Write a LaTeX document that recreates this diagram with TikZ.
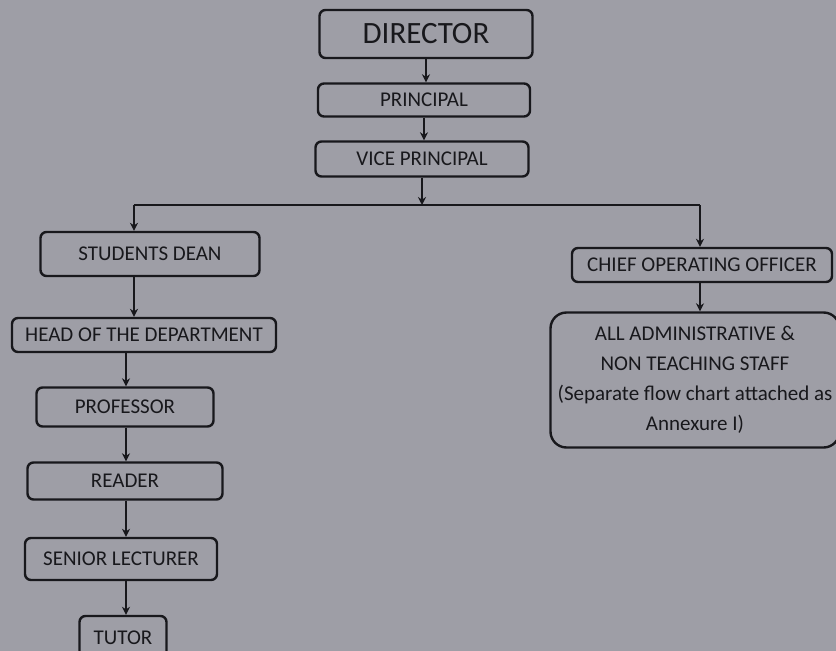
\documentclass[tikz,border=0pt]{standalone}
\usepackage{fontspec}
\setmainfont{Carlito}
\usetikzlibrary{arrows.meta}
\definecolor{paper}{HTML}{9E9EA6}
\definecolor{ink}{HTML}{18181C}
\tikzset{
  post/.style={draw=ink, line width=2.4pt, rounded corners=6pt, text=ink,
    inner sep=0pt, font=\fontsize{21}{24}\selectfont},
  link/.style={draw=ink, line width=2.2pt, -{Stealth[length=8pt,width=8pt]}}
}
\begin{document}
\begin{tikzpicture}[x=1pt,y=-1pt]
      \useasboundingbox (0,0) rectangle (836,651);
      \fill[paper] (0,0) rectangle (836,651);
      \path
        (426,34) node[post, minimum width=213, minimum height=48,
          font=\fontsize{31}{34}\selectfont] (dir){DIRECTOR}
        (424,100) node[post, minimum width=212, minimum height=33] (prin){PRINCIPAL}
        (422,159) node[post, minimum width=213, minimum height=35] (vp){VICE PRINCIPAL}
        (150,254) node[post, minimum width=219, minimum height=44] (sdean){STUDENTS DEAN}
        (144,335) node[post, minimum width=264, minimum height=34] (hod){HEAD OF THE DEPARTMENT}
        (125,407) node[post, minimum width=177, minimum height=39] (prof){PROFESSOR}
        (125,481) node[post, minimum width=195, minimum height=37] (reader){READER}
        (121,559) node[post, minimum width=192, minimum height=42] (slect){SENIOR LECTURER}
        (123,640) node[post, minimum width=87, minimum height=48] (tutor){\raisebox{4pt}{TUTOR}}
        (702,265) node[post, minimum width=260, minimum height=34] (coo){CHIEF OPERATING OFFICER}
        (695,380) node[post, minimum width=289, minimum height=135, rounded corners=16pt,
          align=center, font=\fontsize{21}{30}\selectfont] (staff)
          {ALL ADMINISTRATIVE \&\\NON TEACHING STAFF\\(Separate flow chart attached as\\Annexure I)};
      \coordinate (busL) at (134,205);
      \coordinate (busR) at (700,205);
      \coordinate (col) at (126,0);
      \begin{scope}[link]
        \draw (dir.south) to (dir.south |- prin.north);
        \draw (prin.south) to (prin.south |- vp.north);
        \draw (vp.south) to (vp.south |- busL);
        \draw[-] (busL) to (busR);
        \draw (busL) to (busL |- sdean.north);
        \draw (busR) to (busR |- coo.north);
        \draw (coo.south -| busR) to (staff.north -| busR);
        \draw (sdean.south -| busL) to (hod.north -| busL);
        \draw (hod.south -| col) to (prof.north -| col);
        \draw (prof.south -| col) to (reader.north -| col);
        \draw (reader.south -| col) to (slect.north -| col);
        \draw (slect.south -| col) to (tutor.north -| col);
      \end{scope}
    \end{tikzpicture}
\end{document}
